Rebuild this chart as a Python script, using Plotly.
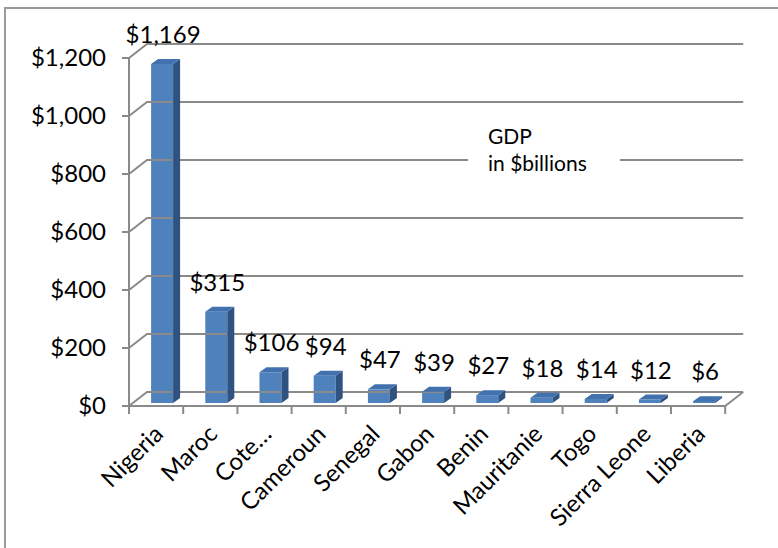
import plotly.graph_objects as go

# ---------------- data ----------------
countries = ["Nigeria", "Maroc", "Cote…", "Cameroun", "Senegal", "Gabon",
             "Benin", "Mauritanie", "Togo", "Sierra Leone", "Liberia"]
gdp = [1169, 315, 106, 94, 47, 39, 27, 18, 14, 12, 6]
y_ticks = [0, 200, 400, 600, 800, 1000, 1200]
legend_text = "GDP<br>in $billions"

# ---------------- geometry (pixels) ----------------
W, H = 778, 548
L, R, T, B = 110, 752, 12, 414      # plot area in pixels
X0PX, Y0PX = 129, 406               # front-left floor corner
U = 54.2                             # px per category
K = 0.29                             # px per value unit
n = len(countries)


def xv(px):
    return -0.5 + (px - X0PX) / U


def yv(py):
    return (Y0PX - py) / K


def xp(px):
    return (px - L) / (R - L)


def yp(py):
    return (B - py) / (B - T)


DX, DY = 18 / U, 14 / K             # wall depth
BAR_SHIFT = 6 / U
BAR_BASE = 3 / K
BAR_W = 22 / U
SDX, SDY = 7 / U, 5 / K             # bar depth
LABEL_OFF = 27 / K

GRID = "#8a8a8a"
FRONT = "#4F81BD"
TOP = "#4272AE"
SIDE = "#2F5280"
FONT = "Lato, Carlito, Calibri, sans-serif"
FS = 24

# ---------------- frame lines ----------------
fx, fy = [], []
x_left, x_right = -0.5, n - 0.5
for t in y_ticks:
    fx += [x_left, x_left + DX, x_right + DX, None]
    fy += [t, t + DY, t + DY, None]
    # y tick marks
    fx += [x_left - 7 / U, x_left, None]
    fy += [t, t, None]
# floor front edge + right diagonal
fx += [x_left, x_right, x_right + DX, None]
fy += [0, 0, DY, None]
# front vertical axis
fx += [x_left, x_left, None]
fy += [0, y_ticks[-1], None]
# category boundary ticks
for i in range(n + 1):
    b = i - 0.5
    fx += [b, b, None]
    fy += [0, -9 / K, None]

frame = go.Scatter(x=fx, y=fy, mode="lines", line=dict(color=GRID, width=2),
                   hoverinfo="skip", showlegend=False)

# ---------------- bars ----------------
xc = [i + BAR_SHIFT for i in range(n)]
bars = go.Bar(x=xc, y=gdp, base=BAR_BASE, width=BAR_W,
              marker=dict(color=FRONT, line=dict(width=0)), showlegend=False)

sx, sy, tx, ty = [], [], [], []
for c, v in zip(xc, gdp):
    xl, xr = c - BAR_W / 2, c + BAR_W / 2
    b0, b1 = BAR_BASE, BAR_BASE + v
    sx += [xr, xr, xr + SDX, xr + SDX, xr, None]
    sy += [b0, b1, b1 + SDY, b0 + SDY, b0, None]
    tx += [xl, xr, xr + SDX, xl + SDX, xl, None]
    ty += [b1, b1, b1 + SDY, b1 + SDY, b1, None]

side = go.Scatter(x=sx, y=sy, mode="lines", fill="toself", fillcolor=SIDE,
                  line=dict(width=0, color=SIDE), hoverinfo="skip", showlegend=False)
top = go.Scatter(x=tx, y=ty, mode="lines", fill="toself", fillcolor=TOP,
                 line=dict(width=0, color=TOP), hoverinfo="skip", showlegend=False)

labels = go.Scatter(x=[c + 1.0 / U for c in xc], y=[BAR_BASE + v + LABEL_OFF for v in gdp],
                    mode="text", text=[f"${v:,}" for v in gdp],
                    textposition="middle center",
                    textfont=dict(size=FS, color="black", family=FONT),
                    cliponaxis=False, hoverinfo="skip", showlegend=False)

fig = go.Figure([frame, side, top, bars, labels])

fig.update_layout(
    width=W, height=H,
    margin=dict(l=L, r=W - R, t=T, b=H - B, pad=0),
    paper_bgcolor="white", plot_bgcolor="white",
    font=dict(family=FONT, size=FS, color="black"),
    showlegend=False,
    xaxis=dict(range=[xv(L), xv(R)], tickmode="array",
               tickvals=[i + 0.0 for i in range(n)], ticktext=countries,
               tickangle=-45, showgrid=False, zeroline=False, showline=False,
               ticks="", tickfont=dict(size=FS)),
    yaxis=dict(range=[yv(B), yv(T)], tickmode="array",
               tickvals=y_ticks, ticktext=[f"${t:,}" for t in y_ticks],
               showgrid=False, zeroline=False, showline=False, ticks="",
               ticklabelstandoff=3, tickfont=dict(size=FS)),
    shapes=[
        dict(type="rect", xref="paper", yref="paper",
             x0=xp(5), x1=xp(800), y0=yp(8), y1=yp(570),
             line=dict(color="#9a9a9a", width=2), fillcolor="rgba(0,0,0,0)",
             layer="above"),
        dict(type="rect", xref="paper", yref="paper",
             x0=xp(468), x1=xp(620), y0=yp(185), y1=yp(118),
             line=dict(width=0), fillcolor="white", layer="above"),
    ],
    annotations=[
        dict(text=legend_text, xref="paper", yref="paper",
             x=xp(486), y=yp(149), xanchor="left", yanchor="middle",
             align="left", showarrow=False,
             font=dict(size=21, family=FONT, color="black")),
    ],
)

fig.write_html("out.html")
